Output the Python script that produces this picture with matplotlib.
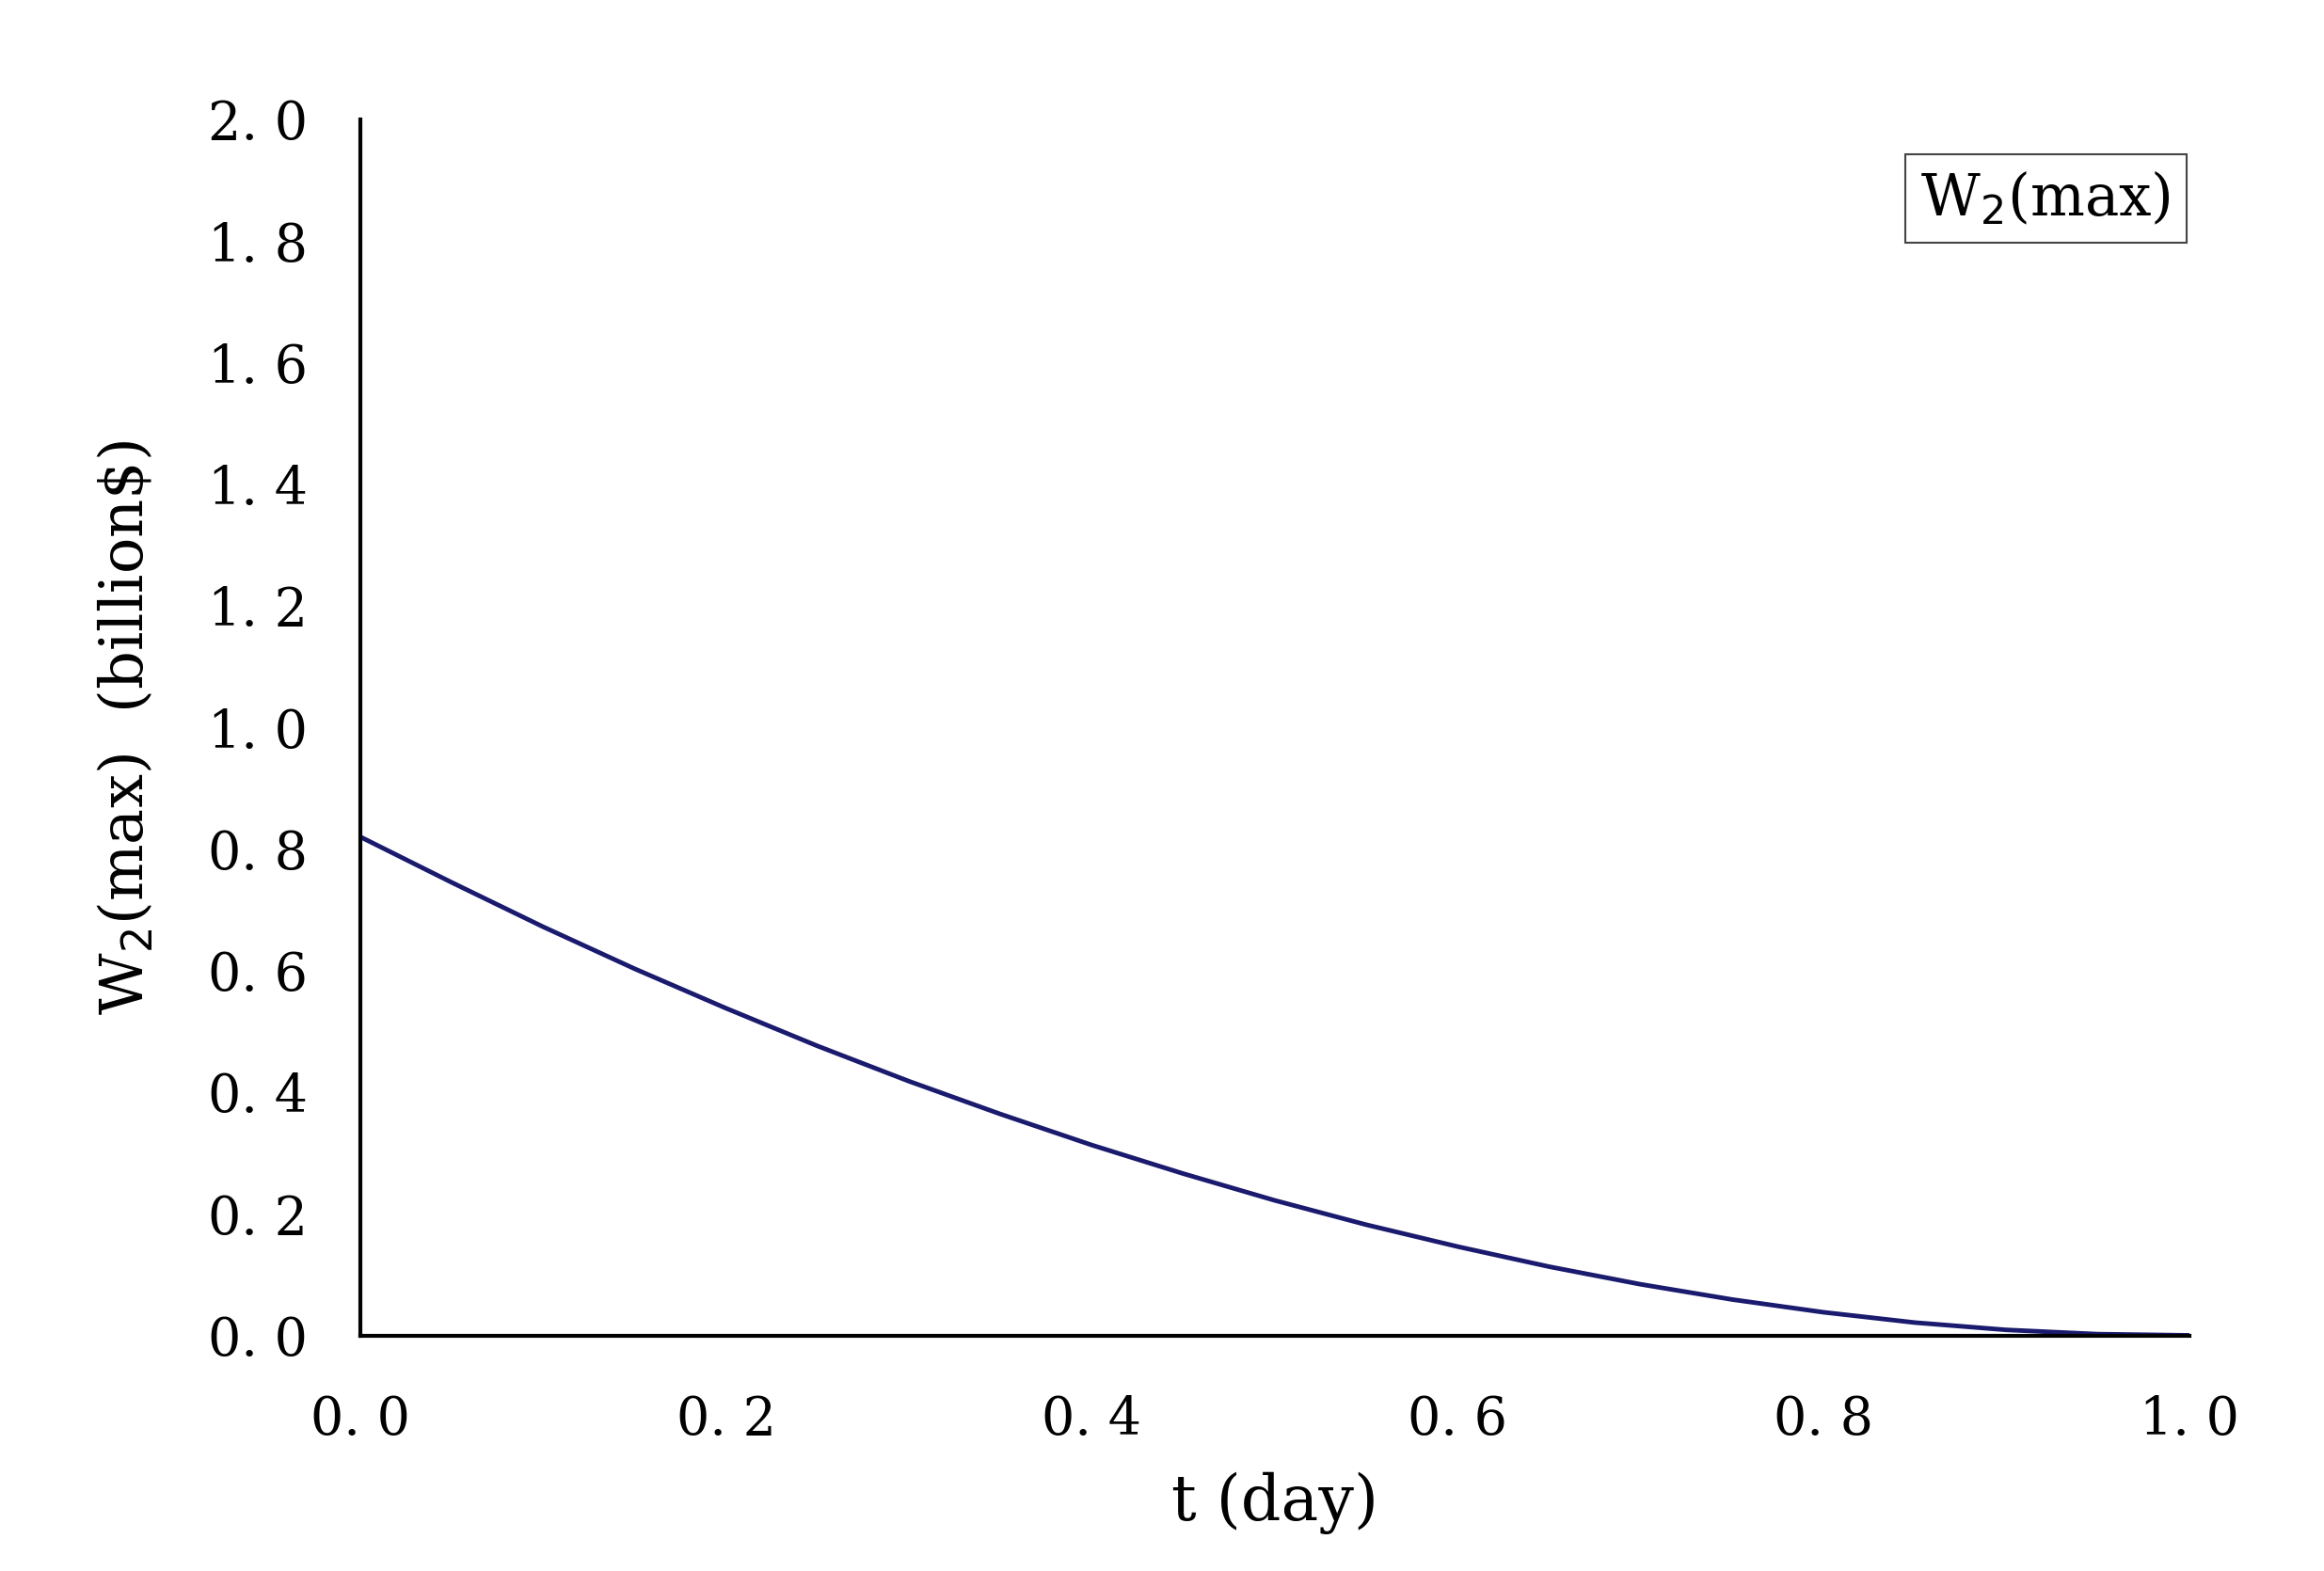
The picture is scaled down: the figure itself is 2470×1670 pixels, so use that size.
import matplotlib.pyplot as plt

t_day = [0.0, 0.05, 0.1, 0.15, 0.2, 0.25, 0.3, 0.35, 0.4, 0.45, 0.5,
         0.55, 0.6, 0.65, 0.7, 0.75, 0.8, 0.85, 0.9, 0.95, 1.0]
w2_max = [0.82, 0.745, 0.672, 0.603, 0.538, 0.476, 0.418, 0.364, 0.313, 0.266, 0.222,
          0.182, 0.146, 0.113, 0.084, 0.059, 0.038, 0.021, 0.009, 0.002, 0.0]
y_ticks = [0.0, 0.2, 0.4, 0.6, 0.8, 1.0, 1.2, 1.4, 1.6, 1.8, 2.0]
x_ticks = [0.0, 0.2, 0.4, 0.6, 0.8, 1.0]

plt.rcParams['font.family'] = ['DejaVu Serif']
fig = plt.figure(figsize=(24.7, 16.7), dpi=100)
ax = fig.add_axes([0.155, 0.15, 0.787, 0.774])
ax.plot(t_day, w2_max, color="#1a1a6e", lw=3.5)

ax.set_xlim(0, 1.0)
ax.set_ylim(0, 2.0)
ax.set_xticks(x_ticks)
ax.set_xticklabels([f"{v:.1f}".replace(".", ". ") for v in x_ticks])
ax.set_yticks(y_ticks)
ax.set_yticklabels([f"{v:.1f}".replace(".", ". ") for v in y_ticks])
ax.tick_params(length=0, labelsize=40, pad=40)
ax.tick_params(axis="x", pad=45)
for s in ("top", "right"):
    ax.spines[s].set_visible(False)
for s in ("left", "bottom"):
    ax.spines[s].set_linewidth(3)

ax.set_xlabel("t (day)", fontsize=48, labelpad=20)
ax.set_ylabel(r"W$_2$(max)  (billion\$)", fontsize=46, labelpad=40)

ax.text(0.99, 0.935, r"W$_2$(max)", transform=ax.transAxes, ha="right", va="center",
        fontsize=44, bbox=dict(facecolor="white", edgecolor="#444444", lw=1.5, pad=12))

fig.savefig("out.png", dpi=100)
